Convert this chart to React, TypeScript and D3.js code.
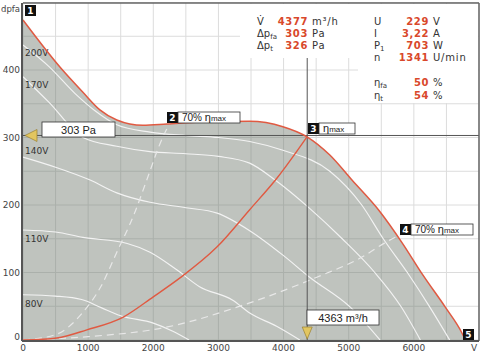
import React from "react";
import * as d3 from "d3";

// Envelope (max curve) and system curve
const envQ = [0, 570, 920, 1180, 1440, 1840, 2210, 2720, 3480, 3990, 4360, 4710, 5050, 5480, 5820, 6140, 6480, 6740, 6790];
const envP = [474, 404, 367, 341, 326, 318, 320, 323, 324, 316, 301, 274, 237, 190, 144, 96, 49, 10, 0];

const sysQ = [0, 520, 980, 1540, 2000, 2410, 2980, 3480, 3900, 4360];
const sysP = [0, 3, 15, 34, 64, 92, 138, 193, 240, 301];

// 70% eta max dashed curves
const d1Q = [0, 500, 920, 1200, 1440, 1700, 1900, 2100, 2250];
const d1P = [0, 8, 41, 80, 130, 185, 237, 290, 321];
const d2Q = [0, 1000, 2150, 3480, 4510, 5170, 5630, 5800];
const d2P = [0, 5, 18, 55, 93, 121, 148, 156];

// Voltage curves
const v200Q = [0, 400, 800, 1100, 1440, 1950, 2500, 3000, 3480, 3990, 4710, 5200, 5530, 5900, 6250, 6550];
const v200P = [437, 405, 365, 340, 319, 308, 303, 300, 294, 281, 250, 200, 150, 100, 48, 0];
const v170Q = [0, 400, 920, 1440, 1950, 2500, 3000, 3480, 3870, 4400, 4900, 5400, 5800, 6100];
const v170P = [390, 352, 300, 287, 279, 276, 272, 262, 237, 195, 150, 100, 50, 0];
const v140Q = [0, 500, 1030, 1440, 1950, 2500, 2980, 3480, 4000, 4400, 5020, 5480];
const v140P = [271, 256, 237, 218, 204, 196, 188, 162, 125, 93, 49, 0];
const v110Q = [0, 500, 920, 1600, 1950, 2360, 2710, 3220, 3480, 3900, 4250];
const v110P = [163, 160, 152, 143, 130, 104, 79, 59, 40, 20, 0];
const v80Q = [0, 500, 900, 1200, 1500, 2000, 2300, 2550];
const v80P = [67, 65, 60, 48, 36, 25, 13, 0];

const voltLabels = ["200V", "170V", "140V", "110V", "80V"];

const xTicks = [0, 1000, 2000, 3000, 4000, 5000, 6000];
const yTicks = [0, 100, 200, 300, 400];

const opQ = 4363;
const opP = 303;

const leftInfo = [
  { sym: "V̇", sub: "", val: "4377", unit: "m³/h" },
  { sym: "Δp", sub: "fa", val: "303", unit: "Pa" },
  { sym: "Δp", sub: "t", val: "326", unit: "Pa" },
];
const rightInfo = [
  { sym: "U", sub: "", val: "229", unit: "V" },
  { sym: "I", sub: "", val: "3,22", unit: "A" },
  { sym: "P", sub: "1", val: "703", unit: "W" },
  { sym: "n", sub: "", val: "1341", unit: "U/min" },
  { sym: "η", sub: "fa", val: "50", unit: "%" },
  { sym: "η", sub: "t", val: "54", unit: "%" },
];

const zip = (q: number[], p: number[]) => q.map((v, i) => [v, p[i]] as [number, number]);

export default function App() {
  const W = 500, H = 355;
  const x = d3.scaleLinear().domain([0, 7000]).range([23, 479]);
  const y = d3.scaleLinear().domain([0, 500]).range([340, 2.5]);
  const line = d3.line<[number, number]>().x(d => x(d[0])).y(d => y(d[1])).curve(d3.curveMonotoneX);
  const area = d3.area<[number, number]>().x(d => x(d[0])).y0(y(0)).y1(d => y(d[1])).curve(d3.curveMonotoneX);
  const font = "DejaVu Sans, Verdana, sans-serif";
  const sans = "Liberation Sans, Arial, sans-serif";
  const gridX = d3.range(0, 7001, 500);
  const gridY = d3.range(0, 501, 50);
  const volts = [zip(v200Q, v200P), zip(v170Q, v170P), zip(v140Q, v140P), zip(v110Q, v110P), zip(v80Q, v80P)];
  const labelYs = [56, 88, 154, 242, 307];
  const rowYL = [25, 37, 49];
  const rowYR = [25, 37, 49, 61, 86, 99];

  const badge = (n: string, bx: number, by: number, label: React.ReactNode, lw: number) => (
    <g>
      <rect x={bx} y={by} width={11} height={11} fill="#111" />
      <text x={bx + 5.5} y={by + 9} fill="#fff" fontSize={9} fontWeight="bold" textAnchor="middle" fontFamily={font}>{n}</text>
      {lw > 0 && <rect x={bx + 11} y={by} width={lw} height={11} fill="#fff" stroke="#333" strokeWidth={0.8} />}
      {label}
    </g>
  );

  return (
    <svg width={W} height={H} style={{ position: "absolute", left: 0, top: 0, background: "#fff" }}>
      {/* grid on white */}
      {gridX.map(g => <line key={"gx" + g} x1={x(g)} x2={x(g)} y1={y(500)} y2={y(0)} stroke="#dcdcdc" strokeWidth={1} />)}
      {gridY.map(g => <line key={"gy" + g} x1={x(0)} x2={x(7000)} y1={y(g)} y2={y(g)} stroke="#dcdcdc" strokeWidth={1} />)}
      {/* fill */}
      <path d={area(zip(envQ, envP)) || ""} fill="#bfc3be" />
      {/* grid on fill */}
      <clipPath id="fillclip"><path d={area(zip(envQ, envP)) || ""} /></clipPath>
      <g clipPath="url(#fillclip)">
        {gridX.map(g => <line key={"fx" + g} x1={x(g)} x2={x(g)} y1={y(500)} y2={y(0)} stroke="#abb0ab" strokeWidth={1} />)}
        {gridY.map(g => <line key={"fy" + g} x1={x(0)} x2={x(7000)} y1={y(g)} y2={y(g)} stroke="#abb0ab" strokeWidth={1} />)}
      </g>
      {/* info panels */}
      <rect x={240} y={4} width={118} height={54} fill="#fff" />
      <rect x={358} y={4} width={120} height={99} fill="#fff" />
      {/* voltage curves */}
      {volts.map((v, i) => <path key={"v" + i} d={line(v) || ""} fill="none" stroke="#f3f3f3" strokeWidth={1.15} />)}
      {voltLabels.map((l, i) => <text key={l} x={25} y={labelYs[i]} fontSize={9} fill="#333" fontFamily={font}>{l}</text>)}
      {/* dashed 70% curves */}
      <path d={line(zip(d1Q, d1P)) || ""} fill="none" stroke="#e8e8e8" strokeWidth={1.2} strokeDasharray="7,5" />
      <path d={line(zip(d2Q, d2P)) || ""} fill="none" stroke="#e8e8e8" strokeWidth={1.2} strokeDasharray="7,5" />
      {/* operating point lines */}
      <line x1={x(opQ)} x2={x(opQ)} y1={58} y2={y(0)} stroke="#555" strokeWidth={1} />
      <line x1={x(0)} x2={x(7000)} y1={y(opP)} y2={y(opP)} stroke="#555" strokeWidth={1} />
      {/* system curve and envelope */}
      <path d={line(zip(sysQ, sysP)) || ""} fill="none" stroke="#e05a42" strokeWidth={1.4} />
      <path d={line(zip(envQ, envP)) || ""} fill="none" stroke="#e05a42" strokeWidth={1.5} />
      {/* frame */}
      <line x1={23} x2={479} y1={3} y2={3} stroke="#666" strokeWidth={1.5} />
      <line x1={479} x2={479} y1={3} y2={341} stroke="#666" strokeWidth={1.5} />
      <line x1={22} x2={22} y1={3} y2={341} stroke="#555" strokeWidth={2} />
      <line x1={22} x2={479} y1={341} y2={341} stroke="#555" strokeWidth={2} />
      {/* ticks */}
      {xTicks.map(t => <text key={"xt" + t} x={x(t)} y={351} fontSize={9} fill="#444" textAnchor="middle" fontFamily={font}>{t}</text>)}
      <text x={474} y={351} fontSize={9} fill="#444" textAnchor="middle" fontFamily={font}>V</text>
      {yTicks.map(t => <text key={"yt" + t} x={20} y={y(t) + (t === 0 ? 0 : 3)} fontSize={9} fill="#444" textAnchor="end" fontFamily={font}>{t}</text>)}
      <text x={1} y={12} fontSize={8.5} fill="#444" fontFamily={font}>dpfa</text>
      {/* markers */}
      <path d={`M${x(0) + 2},${y(opP)} L${x(0) + 14},${y(opP) - 6} L${x(0) + 14},${y(opP) + 6} Z`} fill="#e2c660" stroke="#9a8030" strokeWidth={0.7} />
      <rect x={42} y={122} width={73} height={15} fill="#fff" stroke="#333" strokeWidth={0.8} />
      <text x={78.5} y={133.5} fontSize={11} fill="#222" textAnchor="middle" fontFamily={sans}>303 Pa</text>
      <path d={`M${x(opQ)},${y(0) - 1} L${x(opQ) - 5},${y(0) - 13} L${x(opQ) + 5},${y(0) - 13} Z`} fill="#e2c660" stroke="#9a8030" strokeWidth={0.7} />
      <rect x={307} y={310} width={72} height={15} fill="#fff" stroke="#333" strokeWidth={0.8} />
      <text x={343} y={321.5} fontSize={11} fill="#222" textAnchor="middle" fontFamily={sans}>4363 m³/h</text>
      {/* badges */}
      {badge("1", 25, 5, null, 0)}
      {badge("2", 167, 112, <text x={182} y={121} fontSize={10} fill="#222" fontFamily={sans}>70% <tspan fontSize={11}>η</tspan><tspan fontSize={8}>max</tspan></text>, 62)}
      {badge("3", 308, 123, <text x={323} y={132} fontSize={10} fill="#222" fontFamily={sans}><tspan fontSize={11}>η</tspan><tspan fontSize={8}>max</tspan></text>, 36)}
      {badge("4", 400, 224, <text x={415} y={233} fontSize={10} fill="#222" fontFamily={sans}>70% <tspan fontSize={11}>η</tspan><tspan fontSize={8}>max</tspan></text>, 62)}
      {badge("5", 463, 329, null, 0)}
      {/* info text */}
      {leftInfo.map((r, i) => (
        <g key={"li" + i} fontFamily={font} fontSize={10}>
          <text x={257} y={rowYL[i]} fill="#333">{r.sym}<tspan fontSize={7} dy={2}>{r.sub}</tspan></text>
          <text x={308} y={rowYL[i]} fill="#d9482b" fontWeight="bold" textAnchor="end" letterSpacing={0.6}>{r.val}</text>
          <text x={312} y={rowYL[i]} fill="#333" letterSpacing={0.8}>{r.unit}</text>
        </g>
      ))}
      {rightInfo.map((r, i) => (
        <g key={"ri" + i} fontFamily={font} fontSize={10}>
          <text x={374} y={rowYR[i]} fill="#333">{r.sym}<tspan fontSize={7} dy={2}>{r.sub}</tspan></text>
          <text x={429} y={rowYR[i]} fill="#d9482b" fontWeight="bold" textAnchor="end" letterSpacing={0.6}>{r.val}</text>
          <text x={433} y={rowYR[i]} fill="#333" letterSpacing={0.8}>{r.unit}</text>
        </g>
      ))}
    </svg>
  );
}
